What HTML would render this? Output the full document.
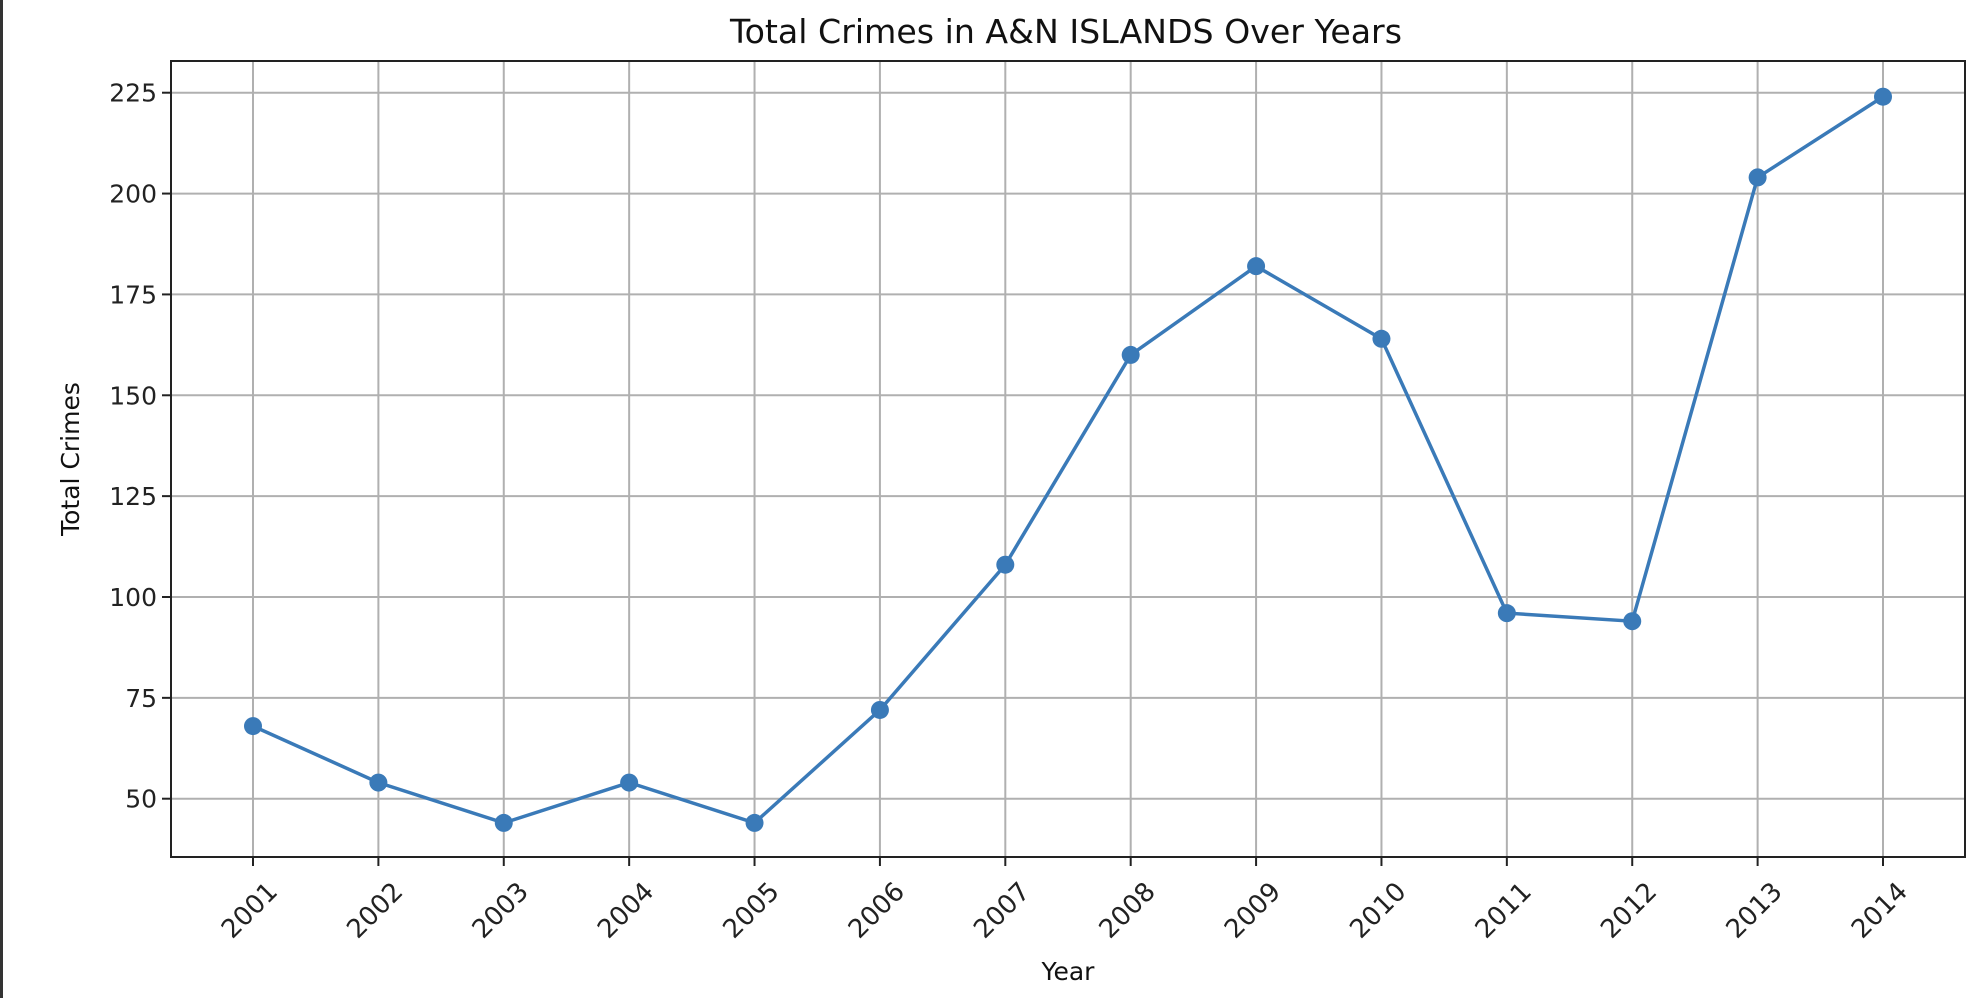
<!DOCTYPE html>
<html><head><meta charset="utf-8"><style>
html,body{margin:0;padding:0;background:#fff;}
svg{display:block;font-family:"DejaVu Sans","Liberation Sans",sans-serif;}
</style></head><body>
<svg id="chart" width="1984" height="998">
<rect x="0" y="0" width="3" height="998" fill="#333"/>
<text x="1066" y="43" font-size="33" text-anchor="middle" fill="#111" textLength="672" lengthAdjust="spacingAndGlyphs">Total Crimes in A&amp;N ISLANDS Over Years</text>
<text x="1068" y="980" font-size="25" text-anchor="middle" fill="#111">Year</text>
<text transform="translate(79,459) rotate(-90)" font-size="25" text-anchor="middle" fill="#111">Total Crimes</text>
<g id="grid"></g><g id="ticks"></g><g id="series"></g>
<rect x="171" y="61" width="1794" height="796" fill="none" stroke="#222" stroke-width="2"/>
</svg>
<script>
const years = [2001,2002,2003,2004,2005,2006,2007,2008,2009,2010,2011,2012,2013,2014];
const crimes = [68,54,44,54,44,72,108,160,182,164,96,94,204,224];
const yTicks = [50,75,100,125,150,175,200,225];

const NS="http://www.w3.org/2000/svg";
const L=171,R=1965,T=61,B=857;
const yMin=35.55,yMax=232.86;
const x0=253,dx=(1883-253)/13;
function xs(i){return x0+i*dx;}
function ys(v){return B-(v-yMin)/(yMax-yMin)*(B-T);}
function mk(tag,attrs,parent){const e=document.createElementNS(NS,tag);for(const k in attrs)e.setAttribute(k,attrs[k]);parent.appendChild(e);return e;}
const grid=document.getElementById('grid'),ticks=document.getElementById('ticks'),series=document.getElementById('series');
yTicks.forEach(v=>{
  const y=ys(v);
  const g=mk('line',{x1:L,x2:R,y1:y,y2:y,stroke:'#b0b0b0','stroke-width':2},grid);
  
  
  const t=mk('line',{x1:L-9,x2:L,y1:y,y2:y,stroke:'#222','stroke-width':2},ticks);
  
  
  const tx=mk('text',{x:L-14,y:y+9,'font-size':25,'text-anchor':'end',fill:'#222'},ticks);
  tx.textContent=v;
  
  
});
years.forEach((yr,i)=>{
  const x=xs(i);
  const g=mk('line',{x1:x,x2:x,y1:T,y2:B,stroke:'#b0b0b0','stroke-width':2},grid);
  
  
  const t=mk('line',{x1:x,x2:x,y1:B,y2:B+9,stroke:'#222','stroke-width':2},ticks);
  
  
  const tx=mk('text',{transform:`translate(${x+26},${B+36}) rotate(-45)`,'font-size':26,'text-anchor':'end',fill:'#222'},ticks);
  tx.textContent=yr;
  
  
});
const pts=crimes.map((v,i)=>xs(i)+','+ys(v)).join(' ');
const pl=mk('polyline',{points:pts,fill:'none',stroke:'#3a7ab8','stroke-width':3.5},series);


crimes.forEach((v,i)=>{
  const c=mk('circle',{cx:xs(i),cy:ys(v),r:9,fill:'#3a7ab8'},series);
  
  
});
</script>
</body></html>
